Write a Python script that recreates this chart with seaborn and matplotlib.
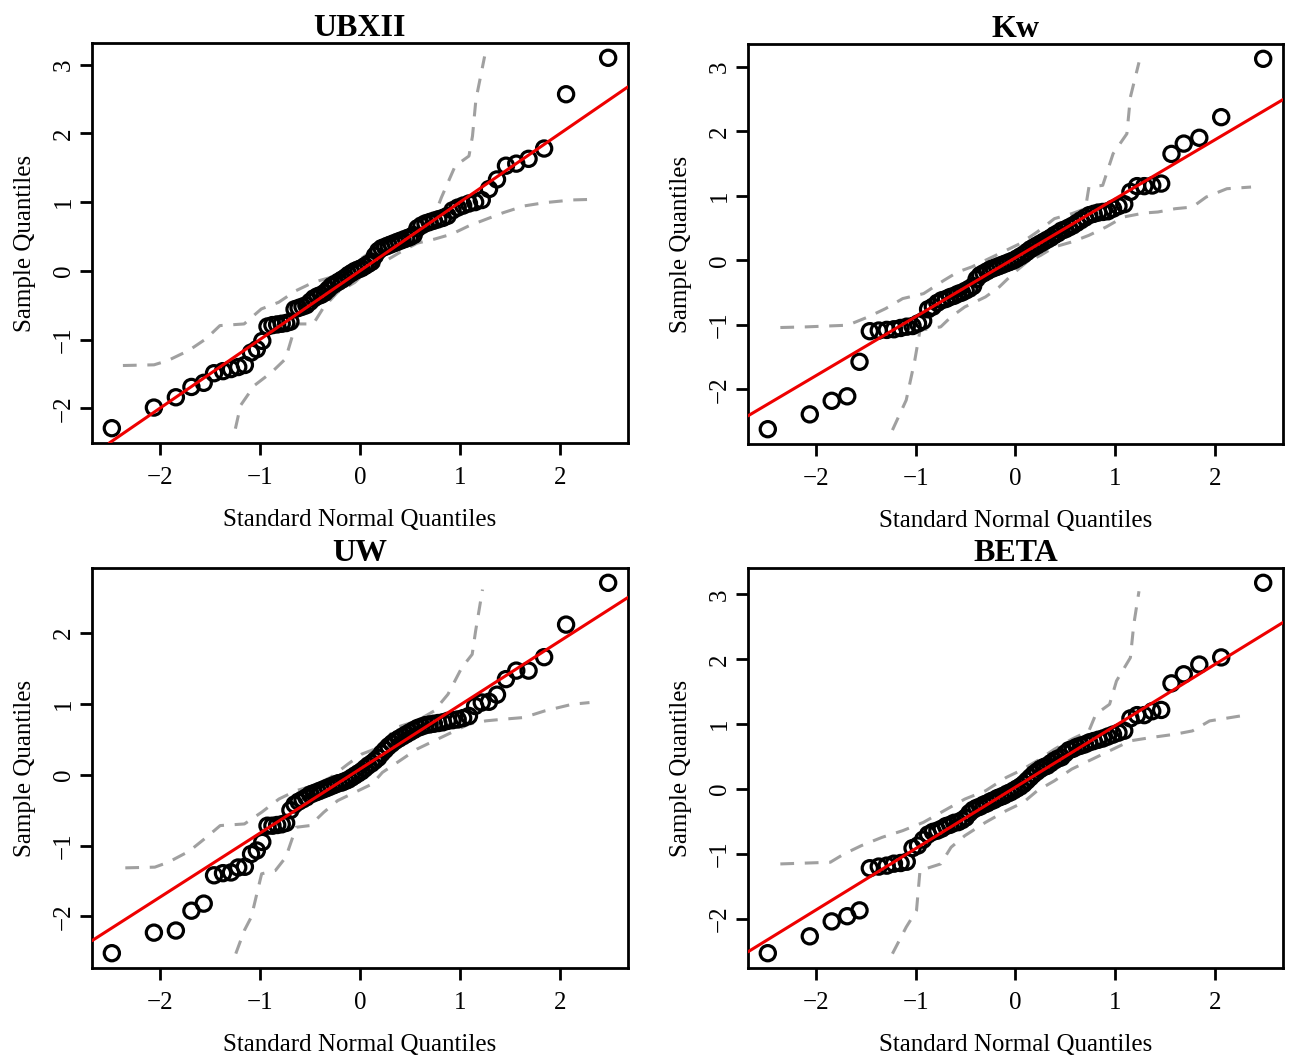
import matplotlib
matplotlib.use("Agg")
import matplotlib.pyplot as plt
import seaborn as sns
import pandas as pd
from statistics import NormalDist
from matplotlib.ticker import MultipleLocator

# ---------------------------------------------------------------------------
# Data: ordered normalized quantile residuals (n = 76) for four fitted models
# ---------------------------------------------------------------------------
titles = ["UBXII", "Kw", "UW", "BETA"]

resid_ubxii = [
    -2.29, -1.99, -1.84, -1.69, -1.63, -1.49, -1.46, -1.43, -1.40, -1.37, -1.19, -1.14, -1.02,
    -0.81, -0.79, -0.78, -0.77, -0.76, -0.74,
    -0.56, -0.54, -0.52, -0.50,
    -0.45, -0.40, -0.37, -0.35, -0.32, -0.27,
    -0.22, -0.19, -0.16, -0.13, -0.10,
    -0.06, -0.03, 0.00, 0.02, 0.04, 0.07, 0.10, 0.13,
    0.22, 0.29,
    0.33, 0.35, 0.37, 0.39, 0.41, 0.43, 0.45, 0.47, 0.49, 0.52,
    0.62, 0.66, 0.69, 0.71, 0.73, 0.75, 0.77, 0.80,
    0.88, 0.92, 0.95, 0.98, 1.00, 1.03,
    1.19, 1.33, 1.53, 1.56, 1.63, 1.78, 2.57, 3.10,
]

resid_kw = [
    -2.62, -2.39, -2.18, -2.11, -1.575, -1.10, -1.09, -1.08, -1.07, -1.05, -1.03, -1.02, -0.98,
    -0.94,
    -0.76, -0.72, -0.66, -0.62, -0.60, -0.57, -0.55, -0.52, -0.50, -0.47, -0.44, -0.40,
    -0.29, -0.23, -0.20, -0.17, -0.14, -0.12, -0.10, -0.08, -0.06, -0.04, -0.02, 0.00,
    0.03, 0.06, 0.09, 0.13, 0.17, 0.20, 0.23, 0.26, 0.29, 0.32, 0.35, 0.39, 0.42, 0.46,
    0.48, 0.51, 0.54, 0.58,
    0.62, 0.66, 0.70, 0.72, 0.74, 0.75, 0.76, 0.80, 0.84, 0.87,
    1.06, 1.15, 1.15, 1.16, 1.19, 1.65, 1.81, 1.90, 2.22, 3.125,
]

resid_uw = [
    -2.52, -2.23, -2.20, -1.92, -1.82, -1.42, -1.39, -1.38, -1.31, -1.30, -1.12, -1.07, -0.95,
    -0.72, -0.72, -0.71, -0.70, -0.68,
    -0.50, -0.42, -0.38, -0.35, -0.32,
    -0.28, -0.26, -0.24, -0.22, -0.20, -0.18, -0.16, -0.14, -0.12, -0.11, -0.09,
    -0.07, -0.04, -0.01, 0.02,
    0.05, 0.09, 0.13, 0.16, 0.20, 0.24,
    0.30, 0.35, 0.40, 0.44, 0.48, 0.51, 0.54, 0.57, 0.60,
    0.63, 0.66, 0.68, 0.70, 0.71, 0.72, 0.73, 0.74, 0.76, 0.77,
    0.78, 0.80, 0.83, 0.97, 1.02, 1.03, 1.13, 1.35, 1.47, 1.47, 1.66, 2.12, 2.71,
]

resid_beta = [
    -2.53, -2.27, -2.04, -1.96, -1.87, -1.22, -1.195, -1.18, -1.15, -1.14, -1.12, -0.91, -0.87,
    -0.78, -0.70, -0.66, -0.64, -0.61, -0.57, -0.55, -0.52, -0.51, -0.48, -0.44, -0.37,
    -0.32, -0.29, -0.27, -0.24, -0.22, -0.19, -0.17, -0.14, -0.12, -0.10, -0.07, -0.05, -0.02,
    0.01, 0.04, 0.08, 0.13, 0.18, 0.23, 0.27, 0.31, 0.34, 0.36, 0.40, 0.44, 0.47, 0.49,
    0.55, 0.60, 0.62, 0.65, 0.67, 0.69, 0.72, 0.74, 0.76, 0.78, 0.81, 0.84, 0.87, 0.90,
    1.09, 1.14, 1.14, 1.20, 1.22, 1.63, 1.77, 1.92, 2.03, 3.18,
]

# Reference lines (intercept, slope)
line_intercept = [0.0, 0.04, 0.08, 0.03]
line_slope = [1.0, 0.916, 0.905, 0.948]

# Simulated envelope bands (upper and lower dashed curves)
env_up_x_ubxii = [-2.369, -2.058, -1.919, -1.712, -1.539, -1.40, -1.158, -0.986, -0.813, -0.64,
                  -0.467, -0.294, -0.087, 0.052, 0.225, 0.398, 0.571, 0.743, 0.813, 0.951,
                  1.089, 1.124, 1.158, 1.245]
env_up_y_ubxii = [-1.378, -1.368, -1.305, -1.16, -0.99, -0.797, -0.773, -0.555, -0.458, -0.289,
                  -0.168, -0.095, 0.074, 0.219, 0.364, 0.485, 0.654, 0.80, 1.066, 1.526,
                  1.671, 1.961, 2.49, 3.12]
env_lo_x_ubxii = [-1.245, -1.193, -1.055, -0.882, -0.744, -0.64, -0.467, -0.363, -0.225, -0.052,
                  0.052, 0.156, 0.259, 0.398, 0.571, 0.743, 0.916, 1.089, 1.262, 1.435,
                  1.642, 1.85, 2.127, 2.369]
env_lo_y_ubxii = [-2.297, -1.958, -1.668, -1.475, -1.281, -0.773, -0.773, -0.531, -0.313, -0.168,
                  -0.023, 0.05, 0.147, 0.268, 0.403, 0.461, 0.534, 0.655, 0.752, 0.848,
                  0.945, 0.993, 1.032, 1.042]

env_up_x_kw = [-2.354, -2.095, -1.68, -1.474, -1.30, -1.129, -0.92, -0.715, -0.576, -0.438,
               -0.30, -0.162, 0.045, 0.217, 0.39, 0.563, 0.70, 0.735, 0.873, 0.977,
               1.115, 1.15, 1.236]
env_up_y_kw = [-1.043, -1.033, -1.007, -0.878, -0.749, -0.594, -0.517, -0.31, -0.18, -0.103,
               0.0, 0.103, 0.258, 0.439, 0.646, 0.723, 0.80, 1.136, 1.162, 1.653,
               1.963, 2.53, 3.07]
env_lo_x_kw = [-1.232, -1.094, -1.008, -0.956, -0.749, -0.645, -0.507, -0.30, -0.162, -0.024,
               0.114, 0.252, 0.39, 0.563, 0.735, 0.908, 1.08, 1.288, 1.426, 1.598,
               1.771, 1.909, 2.116, 2.358]
env_lo_y_kw = [-2.634, -2.169, -1.55, -1.085, -1.033, -0.878, -0.723, -0.568, -0.413, -0.207,
               -0.026, 0.077, 0.207, 0.284, 0.387, 0.517, 0.671, 0.733, 0.749, 0.80,
               0.826, 0.981, 1.11, 1.136]

env_up_x_uw = [-2.345, -2.05, -1.914, -1.707, -1.534, -1.397, -1.155, -0.983, -0.81, -0.638,
               -0.466, -0.293, -0.121, 0.017, 0.19, 0.362, 0.569, 0.741, 0.879, 1.017,
               1.121, 1.155, 1.224]
env_up_y_uw = [-1.315, -1.305, -1.235, -1.08, -0.883, -0.718, -0.695, -0.53, -0.343, -0.225,
               -0.155, -0.038, 0.15, 0.291, 0.385, 0.667, 0.76, 0.901, 1.136, 1.512,
               1.70, 2.028, 2.615]
env_lo_x_uw = [-1.241, -1.155, -1.086, -0.983, -0.845, -0.741, -0.638, -0.50, -0.362, -0.224,
               -0.017, 0.121, 0.224, 0.397, 0.569, 0.741, 0.914, 1.086, 1.259, 1.431,
               1.638, 1.845, 2.121, 2.293]
env_lo_y_uw = [-2.526, -2.197, -2.009, -1.399, -1.352, -1.164, -0.742, -0.718, -0.53, -0.366,
               -0.225, -0.131, 0.033, 0.197, 0.362, 0.479, 0.596, 0.714, 0.761, 0.784,
               0.808, 0.901, 0.995, 1.019]

env_up_x_beta = [-2.354, -1.854, -1.716, -1.543, -1.336, -1.129, -0.922, -0.715, -0.507, -0.30,
                 -0.093, 0.045, 0.217, 0.39, 0.563, 0.735, 0.804, 0.942, 1.011, 1.15,
                 1.184, 1.236]
env_up_y_beta = [-1.154, -1.128, -1.0, -0.872, -0.744, -0.641, -0.513, -0.333, -0.154, -0.026,
                 0.179, 0.282, 0.436, 0.615, 0.769, 0.897, 1.154, 1.308, 1.667, 2.026,
                 2.538, 3.05]
env_lo_x_beta = [-1.232, -1.094, -0.991, -0.956, -0.749, -0.645, -0.507, -0.30, -0.093, 0.079,
                 0.217, 0.39, 0.563, 0.735, 0.942, 1.15, 1.357, 1.598, 1.771, 1.943, 2.254]
env_lo_y_beta = [-2.538, -2.128, -1.872, -1.256, -1.154, -0.897, -0.718, -0.513, -0.333, -0.205,
                 -0.026, 0.128, 0.308, 0.436, 0.59, 0.744, 0.795, 0.846, 0.897, 1.051, 1.128]

residuals = [resid_ubxii, resid_kw, resid_uw, resid_beta]
envelopes = [
    (env_up_x_ubxii, env_up_y_ubxii, env_lo_x_ubxii, env_lo_y_ubxii),
    (env_up_x_kw, env_up_y_kw, env_lo_x_kw, env_lo_y_kw),
    (env_up_x_uw, env_up_y_uw, env_lo_x_uw, env_lo_y_uw),
    (env_up_x_beta, env_up_y_beta, env_lo_x_beta, env_lo_y_beta),
]

# ---------------------------------------------------------------------------
# Style
# ---------------------------------------------------------------------------
sns.set_theme(style="ticks")
plt.rcParams["font.family"] = ["Liberation Serif", "DejaVu Serif"]
plt.rcParams["axes.unicode_minus"] = True
plt.rcParams["text.color"] = "black"
plt.rcParams["axes.labelcolor"] = "black"
plt.rcParams["axes.titlecolor"] = "black"

W, H = 1291, 1055
fig = plt.figure(figsize=(W / 100, H / 100), dpi=100)
fig.patch.set_facecolor("white")

# axes boxes in pixels: left, top, right, bottom
boxes = [(92, 43, 628, 443), (748, 44, 1283, 444),
         (92, 568, 628, 968), (748, 568, 1283, 968)]


def padded(lo, hi, frac=0.04):
    r = hi - lo
    return lo - frac * r, hi + frac * r


nd = NormalDist()

for k, title in enumerate(titles):
    l, t, r, b = boxes[k]
    ax = fig.add_axes([l / W, 1 - b / H, (r - l) / W, (b - t) / H])
    sample = sorted(residuals[k])
    n = len(sample)
    theo = [nd.inv_cdf((i - 0.5) / n) for i in range(1, n + 1)]
    df = pd.DataFrame({"theoretical": theo, "sample": sample})

    ux, uy, lx, ly = envelopes[k]
    env_style = dict(color="#a0a0a0", linewidth=2.2, linestyle=(0, (4.5, 3.5)),
                     sort=False, estimator=None, ax=ax, zorder=1)
    sns.lineplot(x=ux, y=uy, **env_style)
    sns.lineplot(x=lx, y=ly, **env_style)

    sns.scatterplot(data=df, x="theoretical", y="sample", ax=ax, marker="o",
                    s=120, linewidth=2.3, zorder=2)
    pts = ax.collections[-1]
    pts.set_facecolor("none")
    pts.set_edgecolor("black")

    ax.axline((0, line_intercept[k]), slope=line_slope[k], color="#ee0000",
              linewidth=2.2, zorder=3)

    ax.set_xlim(*padded(min(theo), max(theo)))
    ax.set_ylim(*padded(min(sample), max(sample)))
    ax.xaxis.set_major_locator(MultipleLocator(1))
    ax.yaxis.set_major_locator(MultipleLocator(1))

    for sp in ax.spines.values():
        sp.set_visible(True)
        sp.set_linewidth(2.0)
        sp.set_color("black")
    ax.tick_params(axis="both", direction="out", length=8.5, width=2.0,
                   color="black", labelsize=18, labelcolor="black")
    ax.tick_params(axis="x", pad=9)
    ax.tick_params(axis="y", pad=4, labelrotation=90)
    for lab in ax.get_yticklabels():
        lab.set_verticalalignment("center")

    ax.set_title(title, fontsize=23, fontweight="bold", pad=3, color="black")
    ax.set_xlabel("Standard Normal Quantiles", fontsize=18, labelpad=14, color="black")
    ax.set_ylabel("Sample Quantiles", fontsize=18, labelpad=12, color="black")
    ax.set_facecolor("white")

fig.savefig("out.png", dpi=100, facecolor="white")
